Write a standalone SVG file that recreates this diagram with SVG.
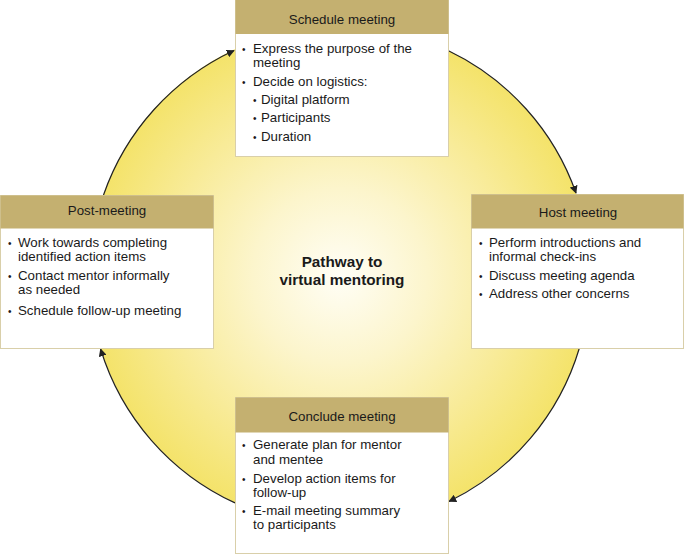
<svg xmlns="http://www.w3.org/2000/svg" width="685" height="554" viewBox="0 0 685 554">
<style>
.box{fill:#ffffff;stroke:#d9cfa9;stroke-width:1}
.hdr{fill:#c4b070}
.title{font-family:"Liberation Sans",Arial,sans-serif;font-size:13.3px;fill:#1a1a1a;text-anchor:middle}
.t{font-family:"Liberation Sans",Arial,sans-serif;font-size:13.3px;fill:#1a1a1a}
.b{font-family:"Liberation Sans",Arial,sans-serif;font-size:10px;fill:#1a1a1a}
.center{font-family:"Liberation Sans",Arial,sans-serif;font-size:15.3px;font-weight:bold;fill:#1a1a1a;text-anchor:middle}
.arc{fill:none;stroke:#222222;stroke-width:1.2;marker-end:url(#ah)}
</style>
<defs>
<radialGradient id="g" cx="340" cy="276" r="250" gradientUnits="userSpaceOnUse">
<stop offset="0" stop-color="#fffef6"/>
<stop offset="0.35" stop-color="#fcf5cc"/>
<stop offset="0.7" stop-color="#f8eb98"/>
<stop offset="1" stop-color="#f4e36a"/>
</radialGradient>
<marker id="ah" viewBox="0 0 10 10" refX="9" refY="5" markerWidth="8" markerHeight="8" markerUnits="userSpaceOnUse" orient="auto">
<path d="M0,0 L10,5 L0,10 z" fill="#222222"/>
</marker>
</defs>
<circle cx="340" cy="276" r="250" fill="url(#g)"/>
<g id="connectors">
<path class="arc" d="M103.5,195 A250,250 0 0 1 234,50.5"/>
<path class="arc" d="M448,50.5 A250,250 0 0 1 576,193"/>
<path class="arc" d="M579.4,348 A250,250 0 0 1 449,501.5"/>
<path class="arc" d="M235,502.9 A250,250 0 0 1 100.6,349"/>
</g>
<g id="schedule">
<rect class="box" x="235.5" y="0.5" width="213" height="156"/>
<rect class="hdr" x="235.5" y="0" width="213" height="34"/>
<text class="title" x="342" y="24">Schedule meeting</text>
<text class="b" x="242" y="53">•</text>
<text class="t" x="253" y="53">Express the purpose of the</text>
<text class="t" x="253" y="67">meeting</text>
<text class="b" x="242" y="86">•</text>
<text class="t" x="253" y="86">Decide on logistics:</text>
<text class="b" x="253" y="104">•</text>
<text class="t" x="261" y="104">Digital platform</text>
<text class="b" x="253" y="122">•</text>
<text class="t" x="261" y="122">Participants</text>
<text class="b" x="253" y="141">•</text>
<text class="t" x="261" y="141">Duration</text>
</g>
<g id="host">
<rect class="box" x="471.5" y="194.5" width="212" height="154"/>
<rect class="hdr" x="471.5" y="194.5" width="212" height="34"/>
<text class="title" x="578" y="217">Host meeting</text>
<text class="b" x="479" y="247">•</text>
<text class="t" x="489" y="247">Perform introductions and</text>
<text class="t" x="489" y="261">informal check-ins</text>
<text class="b" x="479" y="280">•</text>
<text class="t" x="489" y="280">Discuss meeting agenda</text>
<text class="b" x="479" y="298">•</text>
<text class="t" x="489" y="298">Address other concerns</text>
</g>
<g id="post">
<rect class="box" x="0.5" y="195.5" width="213" height="153"/>
<rect class="hdr" x="0.5" y="195.5" width="213" height="33"/>
<text class="title" x="107" y="215">Post-meeting</text>
<text class="b" x="8" y="247">•</text>
<text class="t" x="18" y="247">Work towards completing</text>
<text class="t" x="18" y="261">identified action items</text>
<text class="b" x="8" y="280">•</text>
<text class="t" x="18" y="280">Contact mentor informally</text>
<text class="t" x="18" y="294">as needed</text>
<text class="b" x="8" y="315">•</text>
<text class="t" x="18" y="315">Schedule follow-up meeting</text>
</g>
<g id="conclude">
<rect class="box" x="235.5" y="397.5" width="213" height="156"/>
<rect class="hdr" x="235.5" y="397.5" width="213" height="35"/>
<text class="title" x="342" y="421">Conclude meeting</text>
<text class="b" x="242" y="449">•</text>
<text class="t" x="253" y="449">Generate plan for mentor</text>
<text class="t" x="253" y="464">and mentee</text>
<text class="b" x="242" y="483">•</text>
<text class="t" x="253" y="483">Develop action items for</text>
<text class="t" x="253" y="497">follow-up</text>
<text class="b" x="242" y="515">•</text>
<text class="t" x="253" y="515">E-mail meeting summary</text>
<text class="t" x="253" y="529">to participants</text>
</g>
<g id="center">
<text class="center" x="342" y="267">Pathway to</text>
<text class="center" x="342" y="285">virtual mentoring</text>
</g>
</svg>
